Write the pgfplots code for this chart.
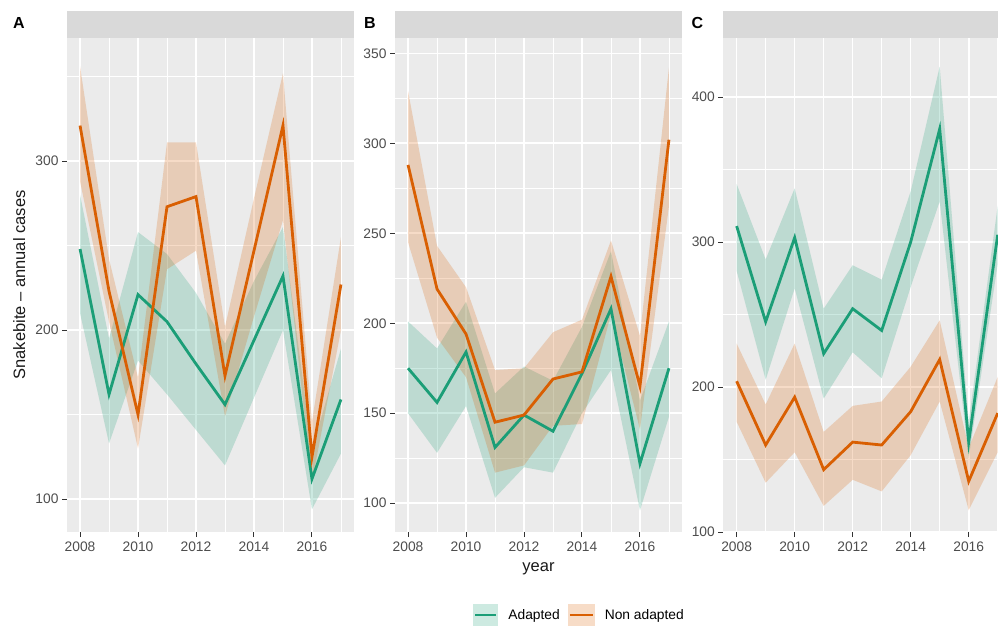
\documentclass[border=0pt]{standalone}
\usepackage{pgfplots}
\pgfplotsset{compat=1.18}
\usepackage{pgfplotstable}
\usepgfplotslibrary{fillbetween}
\usepackage{fontspec}
\setmainfont{Liberation Sans}

\definecolor{adapt}{HTML}{1B9E77}
\definecolor{nonad}{HTML}{D95F02}
\definecolor{panelbg}{HTML}{EBEBEB}
\definecolor{stripbg}{HTML}{D9D9D9}
\definecolor{labcol}{HTML}{4D4D4D}
\definecolor{tickcol}{HTML}{333333}

% year, adapted (mean, low, high), non adapted (mean, low, high)
\pgfplotstableread{
year ad  adlo adhi na  nalo nahi
2008 248 210  280  321 288  356
2009 162 133  195  223 205  242
2010 221 182  258  150 130  172
2011 205 162  245  273 236  311
2012 180 141  222  279 247  311
2013 156 120  192  173 149  202
2014 194 160  229  247 208  278
2015 232 200  261  321 265  352
2016 112  94  129  125 110  146
2017 159 127  189  227 200  255
}\dataA

\pgfplotstableread{
year ad  adlo adhi na  nalo nahi
2008 175 150  201  288 245  329
2009 156 128  186  219 192  243
2010 184 154  212  194 170  220
2011 131 103  161  145 117  174
2012 149 120  176  149 121  175
2013 140 117  168  169 143  195
2014 172 150  198  173 144  202
2015 208 174  240  226 205  246
2016 122  96  157  165 141  193
2017 175 148  201  302 265  342
}\dataB

\pgfplotstableread{
year ad  adlo adhi na  nalo nahi
2008 311 280  340  204 176  230
2009 245 205  288  160 134  188
2010 303 268  337  193 155  230
2011 223 192  254  143 118  169
2012 254 224  284  162 136  187
2013 239 206  274  160 128  190
2014 300 269  335  183 153  214
2015 378 328  421  219 190  246
2016 162 151  176  135 115  158
2017 305 285  325  182 155  207
}\dataC

\pgfplotsset{
  panel/.style={
    scale only axis, width=287pt, height=494pt, anchor=south west,
    xmin=2007.55, xmax=2017.45,
    xtick={2008,2010,...,2016}, minor xtick={2009,2011,...,2017},
    axis background/.style={fill=panelbg},
    axis line style={draw=none},
    grid=both,
    major grid style={white, line width=1.6pt},
    minor grid style={white, line width=0.9pt},
    tick align=outside, xtick pos=left, ytick pos=left,
    major tick length=5pt, minor tick length=0pt,
    tick style={color=tickcol, line width=1pt},
    ticklabel style={font=\fontsize{13.8}{16}\selectfont, text=labcol},
    xticklabel style={yshift=-1.5pt},
    /pgf/number format/assume math mode=true,
    /pgf/number format/1000 sep={},
  },
}

\newcommand{\bands}[2]{%
  \addplot[name path=#2au, draw=none, forget plot] table[x=year,y=adhi]{#1};
  \addplot[name path=#2al, draw=none, forget plot] table[x=year,y=adlo]{#1};
  \addplot[fill=adapt, fill opacity=0.22, draw=none, forget plot] fill between[of=#2au and #2al];
  \addplot[name path=#2nu, draw=none, forget plot] table[x=year,y=nahi]{#1};
  \addplot[name path=#2nl, draw=none, forget plot] table[x=year,y=nalo]{#1};
  \addplot[fill=nonad, fill opacity=0.22, draw=none, forget plot] fill between[of=#2nu and #2nl];
  \addplot[adapt, line width=2.8pt, forget plot] table[x=year,y=ad]{#1};
  \addplot[nonad, line width=2.8pt, forget plot] table[x=year,y=na]{#1};
}

\begin{document}
\begin{tikzpicture}

\begin{axis}[panel, name=A, at={(67pt,-532pt)},
  ymin=80.6, ymax=372.8, ytick={100,200,300}, minor ytick={150,250,350},
  ylabel={Snakebite -- annual cases},
  ylabel style={font=\fontsize{16.5}{18}\selectfont, text=black!90, at={(axis description cs:-0.146,0.5)}, anchor=base}]
\bands{\dataA}{a}
\end{axis}

\begin{axis}[panel, name=B, at={(395pt,-532pt)},
  ymin=84, ymax=358.5, ytick={100,150,...,350}, minor ytick={125,175,...,325},
  xlabel={year},
  xlabel style={font=\fontsize{16.5}{18}\selectfont, text=black!90, at={(axis description cs:0.5,-0.0804)}, anchor=base},
  legend columns=2,
  legend cell align=left,
  legend style={at={(axis description cs:0.262,-0.168)}, anchor=west, draw=none, fill=none,
    font=\fontsize{13.8}{16}\selectfont, nodes={inner sep=0pt},
    /tikz/every odd column/.append style={column sep=10pt},
    /tikz/every even column/.append style={column sep=8pt}}]
\bands{\dataB}{b}
\addlegendimage{legend image code/.code={
  \fill[draw=none, fill=adapt, fill opacity=0.22] (0pt,-11pt) rectangle (25pt,11pt);
  \draw[adapt, line width=2.8pt] (2pt,0pt) -- (23pt,0pt);}}
\addlegendentry{Adapted}
\addlegendimage{legend image code/.code={
  \fill[draw=none, fill=nonad, fill opacity=0.22] (0pt,-11pt) rectangle (27pt,11pt);
  \draw[nonad, line width=2.8pt] (2pt,0pt) -- (25pt,0pt);}}
\addlegendentry{Non adapted}
\end{axis}

\begin{axis}[panel, name=C, at={(723.3pt,-532pt)}, width=274.7pt,
  xmin=2007.54, xmax=2017.01,
  ymin=100, ymax=440.7, ytick={100,200,300,400}, minor ytick={150,250,350}]
\bands{\dataC}{c}
\end{axis}

\foreach \p in {A,B,C}
  \fill[stripbg] (\p.north west) rectangle ([yshift=27pt]\p.north east);

\node[font=\fontsize{16}{18}\selectfont\bfseries] at (19pt,-22.5pt) {A};
\node[font=\fontsize{16}{18}\selectfont\bfseries] at (370pt,-22.5pt) {B};
\node[font=\fontsize{16}{18}\selectfont\bfseries] at (697.5pt,-22.5pt) {C};

\pgfresetboundingbox
\useasboundingbox (0pt,0pt) rectangle (998pt,-625pt);
\end{tikzpicture}
\end{document}
